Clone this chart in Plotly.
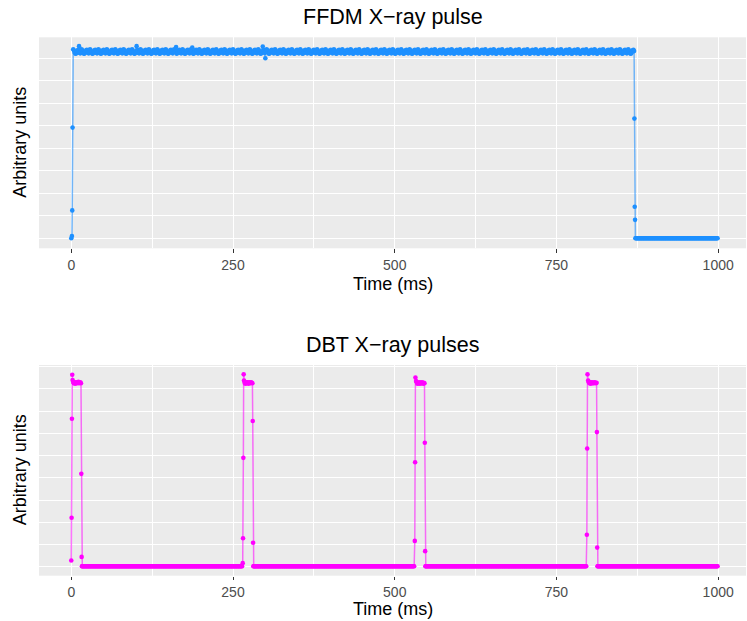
import plotly.graph_objects as go

# ---------------- data (arbitrary units, time in ms) ----------------
# FFDM: single long exposure
ffdm_rise_t = [0.0, 1.0, 1.5, 2.0]
ffdm_rise_v = [0.0, 0.05, 0.62, 2.46]
ffdm_plateau_start = 3
ffdm_plateau_end = 870
ffdm_plateau_level = 4.15
ffdm_ripple = [0.05, 0.03, -0.01, -0.04, -0.05, -0.03, 0.0,
               0.03, 0.04, 0.01, -0.03, -0.04, 0.0]
ffdm_outliers = {12: 4.27, 101: 4.27, 162: 4.25, 187: 4.24, 296: 4.26, 300: 4.0}
ffdm_fall_t = [870.5, 871.0, 871.5, 872.0]
ffdm_fall_v = [2.66, 0.70, 0.41, 0.0]
ffdm_baseline = 0.0
ffdm_end = 999

# DBT: four short exposures
dbt_baseline = 0.01
dbt_end = 999
dbt_rise_t = [[0.0, 0.5, 1.0, 1.5],
              [265.0, 265.5, 266.0, 266.5],
              [531.0, 531.5, 532.0],
              [797.0, 797.5, 798.0]]
dbt_rise_v = [[0.14, 1.10, 3.33, 4.32],
              [0.08, 0.64, 2.45, 4.33],
              [0.58, 2.35, 4.26],
              [0.72, 2.66, 4.33]]
dbt_plateau_t = [[2, 3, 4, 5, 6, 7, 8, 9, 10, 11, 12, 13, 14, 15],
                 [267, 268, 269, 270, 271, 272, 273, 274, 275, 276, 277, 278, 279, 280],
                 [533, 534, 535, 536, 537, 538, 539, 540, 541, 542, 543, 544, 545, 546],
                 [799, 800, 801, 802, 803, 804, 805, 806, 807, 808, 809, 810, 811, 812]]
dbt_plateau_v = [[4.20, 4.16, 4.13, 4.15, 4.12, 4.14, 4.15, 4.13, 4.14, 4.16, 4.13, 4.14, 4.15, 4.13],
                 [4.19, 4.14, 4.12, 4.15, 4.13, 4.15, 4.14, 4.12, 4.15, 4.14, 4.13, 4.15, 4.14, 4.13],
                 [4.18, 4.15, 4.12, 4.14, 4.13, 4.15, 4.12, 4.14, 4.13, 4.15, 4.14, 4.12, 4.14, 4.13],
                 [4.19, 4.15, 4.13, 4.15, 4.12, 4.14, 4.15, 4.13, 4.14, 4.13, 4.15, 4.14, 4.13, 4.14]]
dbt_fall_t = [[15.5, 16.0, 16.5],
              [280.5, 281.0, 281.5],
              [546.5, 547.0, 547.5],
              [812.5, 813.0, 813.5]]
dbt_fall_v = [[2.09, 0.22, dbt_baseline],
              [3.28, 0.54, dbt_baseline],
              [2.79, 0.35, dbt_baseline],
              [3.03, 0.43, dbt_baseline]]

x_ticks = [0, 250, 500, 750, 1000]
titles = ["FFDM X\u2212ray pulse", "DBT X\u2212ray pulses"]
x_title = "Time (ms)"
y_title = "Arbitrary units"

# ---------------- assemble series ----------------
ffdm_t = list(ffdm_rise_t)
ffdm_v = list(ffdm_rise_v)
for i, t in enumerate(range(ffdm_plateau_start, ffdm_plateau_end + 1)):
    ffdm_t.append(t)
    ffdm_v.append(ffdm_outliers.get(t, ffdm_plateau_level + ffdm_ripple[i % len(ffdm_ripple)]))
ffdm_t += ffdm_fall_t
ffdm_v += ffdm_fall_v
for t in range(int(ffdm_fall_t[-1]) + 1, ffdm_end + 1):
    ffdm_t.append(t)
    ffdm_v.append(ffdm_baseline)

dbt_t, dbt_v = [], []
prev_end = None
for k in range(len(dbt_rise_t)):
    if prev_end is not None:
        t = int(prev_end) + 1
        while t < dbt_rise_t[k][0]:
            dbt_t.append(t)
            dbt_v.append(dbt_baseline)
            t += 1
    dbt_t += dbt_rise_t[k] + dbt_plateau_t[k] + dbt_fall_t[k]
    dbt_v += dbt_rise_v[k] + dbt_plateau_v[k] + dbt_fall_v[k]
    prev_end = dbt_fall_t[k][-1]
for t in range(int(prev_end) + 1, dbt_end + 1):
    dbt_t.append(t)
    dbt_v.append(dbt_baseline)

# ---------------- figure ----------------
W, H = 747, 621
FONT = "Liberation Sans, Arial, Helvetica, sans-serif"
BLUE = "#1E90FF"
MAGENTA = "#FF00FF"


def py(p):
    return 1 - p / H


panels = [
    dict(top=37.3, bottom=248.3, yrange=[-0.222, 4.467], title_y=17, xt_y=284),
    dict(top=365.0, bottom=575.7, yrange=[-0.203, 4.54], title_y=345, xt_y=609),
]
x_dom = [39 / W, 746 / W]
x_range = [-49.9, 1043.0]

fig = go.Figure()
series = [(ffdm_t, ffdm_v, BLUE, "rgba(30,144,255,0.6)"),
          (dbt_t, dbt_v, MAGENTA, "rgba(255,0,255,0.55)")]

annotations = []
for i, (p, (tt, vv, mcol, lcol)) in enumerate(zip(panels, series), start=1):
    xa = "x" if i == 1 else f"x{i}"
    ya = "y" if i == 1 else f"y{i}"
    fig.add_trace(go.Scatter(
        x=tt, y=vv, mode="lines+markers", xaxis=xa, yaxis=ya,
        line=dict(color=lcol, width=1.5),
        marker=dict(color=mcol, size=4.6, line=dict(width=0)),
        showlegend=False, hoverinfo="x+y",
    ))
    xkey = "xaxis" if i == 1 else f"xaxis{i}"
    ykey = "yaxis" if i == 1 else f"yaxis{i}"
    fig.layout[xkey] = dict(
        domain=x_dom, range=x_range, anchor=ya,
        tickmode="array", tickvals=x_ticks, ticktext=[str(v) for v in x_ticks],
        showgrid=True, gridcolor="white", gridwidth=1.3,
        minor=dict(tickmode="array", tickvals=[125, 375, 625, 875],
                   showgrid=True, gridcolor="white", gridwidth=0.6, ticks=""),
        zeroline=False, showline=False,
        ticks="outside", ticklen=3.5, tickwidth=1.1, tickcolor="#333333",
        tickfont=dict(family=FONT, size=14, color="#4D4D4D"),
        fixedrange=True,
    )
    fig.layout[ykey] = dict(
        domain=[py(p["bottom"]), py(p["top"])], range=p["yrange"], anchor=xa,
        tick0=0, dtick=1, showticklabels=False, ticks="",
        showgrid=True, gridcolor="white", gridwidth=1.3,
        minor=dict(dtick=0.5, tick0=0, showgrid=True, gridcolor="white", gridwidth=0.6, ticks=""),
        zeroline=False, showline=False, fixedrange=True,
    )
    annotations.append(dict(
        text=titles[i - 1], x=(x_dom[0] + x_dom[1]) / 2, y=py(p["title_y"]),
        xref="paper", yref="paper", xanchor="center", yanchor="middle",
        showarrow=False, font=dict(family=FONT, size=21.5, color="black")))
    annotations.append(dict(
        text=x_title, x=(x_dom[0] + x_dom[1]) / 2, y=py(p["xt_y"]),
        xref="paper", yref="paper", xanchor="center", yanchor="middle",
        showarrow=False, font=dict(family=FONT, size=18, color="black")))
    annotations.append(dict(
        text=y_title, x=20 / W, y=py((p["top"] + p["bottom"]) / 2),
        xref="paper", yref="paper", xanchor="center", yanchor="middle", textangle=-90,
        showarrow=False, font=dict(family=FONT, size=18, color="black")))

fig.update_layout(
    width=W, height=H,
    margin=dict(l=0, r=0, t=0, b=0),
    paper_bgcolor="white", plot_bgcolor="#EBEBEB",
    annotations=annotations,
)

fig.write_html("out.html")
